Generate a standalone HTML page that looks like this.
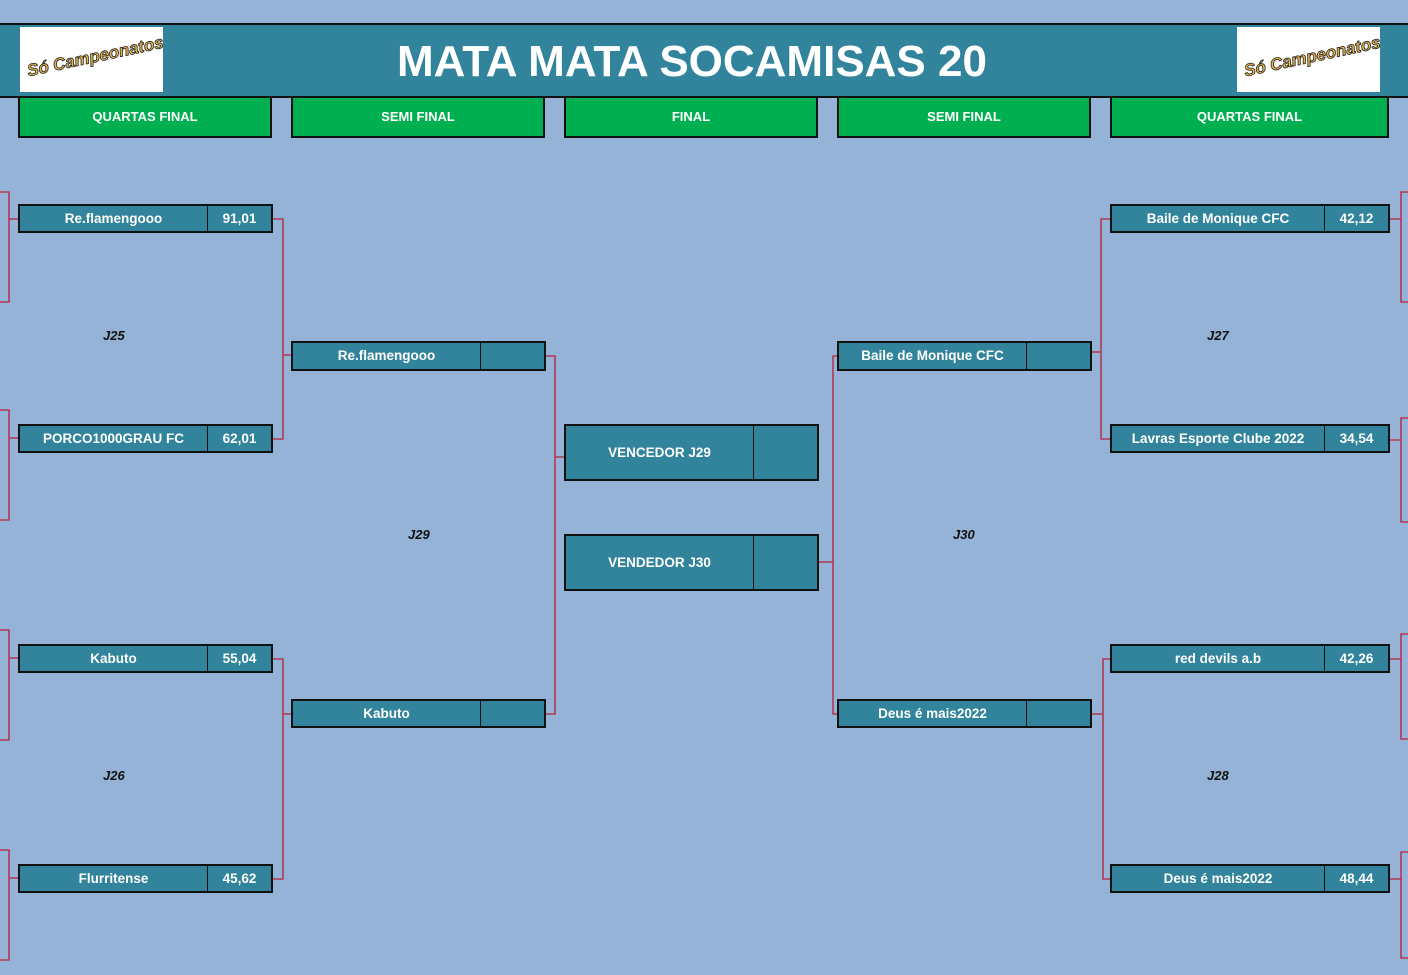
<!DOCTYPE html>
<html><head><meta charset="utf-8"><style>
body{margin:0;width:1408px;height:975px;background:#95b3d7;position:relative;overflow:hidden;font-family:"Liberation Sans",sans-serif}
.hdr{position:absolute;left:0;top:23px;width:1408px;height:71px;background:#31849b;border-top:2px solid #111;border-bottom:2px solid #111}
.title{position:absolute;left:-12px;width:1408px;top:37px;text-align:center;color:#fff;font-size:44px;font-weight:bold;letter-spacing:0px}
.logo{position:absolute;top:27px;width:143px;height:65px;background:#fff;overflow:hidden}
.logo span{position:absolute;left:6px;top:20px;font:italic bold 17px "Liberation Sans",sans-serif;color:#e8b64a;-webkit-text-stroke:0.8px #222;transform:rotate(-12deg);white-space:nowrap}
.g{position:absolute;top:96px;height:38px;background:#00b050;border:2px solid #111;color:#fff;font-weight:bold;font-size:13px;text-align:center;line-height:38px}
.t{position:absolute;background:#31849b;border:2px solid #111;color:#fff;font-weight:bold;font-size:13.5px;box-sizing:border-box;display:flex}
.t .n{flex:1;text-align:center;border-right:1px solid #111}
.t .s{text-align:center}
.lbl{position:absolute;font-weight:bold;font-style:italic;font-size:13px;color:#111}
svg{position:absolute;left:0;top:0}
</style></head><body>
<div class="hdr"></div>
<div class="logo" style="left:20px"><span>Só Campeonatos</span></div>
<div class="logo" style="left:1237px"><span>Só Campeonatos</span></div>
<div class="title">MATA MATA SOCAMISAS 20</div>
<div class="g" style="left:18px;width:250px">QUARTAS FINAL</div>
<div class="g" style="left:291px;width:250px">SEMI FINAL</div>
<div class="g" style="left:564px;width:250px">FINAL</div>
<div class="g" style="left:837px;width:250px">SEMI FINAL</div>
<div class="g" style="left:1110px;width:275px">QUARTAS FINAL</div>

<svg width="1408" height="975" fill="none" stroke="#b81f3a" stroke-width="1.3">
<path d="M272 219H283V439H272M283 355H291"/>
<path d="M272 659H283V879H272M283 714H291"/>
<path d="M545 356H555V714H545M555 457H564"/>
<path d="M837 356H833V714H837M833 562H818"/>
<path d="M1110 219H1101V439H1110M1101 352H1091"/>
<path d="M1110 659H1103V879H1110M1103 714H1091"/>
<path d="M0 192H9V302H0M9 219H18"/>
<path d="M0 410H9V520H0M9 438H18"/>
<path d="M0 630H9V740H0M9 658H18"/>
<path d="M0 850H9V960H0M9 878H18"/>
<path d="M1408 192H1401V302H1408M1401 219H1389"/>
<path d="M1408 418H1401V522H1408M1401 440H1389"/>
<path d="M1408 634H1401V739H1408M1401 659H1389"/>
<path d="M1408 852H1401V958H1408M1401 879H1389"/>
</svg>

<div class="t" style="left:18px;top:204px;width:255px;height:29px;line-height:25px"><div class="n">Re.flamengooo</div><div class="s" style="width:63px">91,01</div></div>
<div class="t" style="left:18px;top:424px;width:255px;height:29px;line-height:25px"><div class="n">PORCO1000GRAU FC</div><div class="s" style="width:63px">62,01</div></div>
<div class="t" style="left:18px;top:644px;width:255px;height:29px;line-height:25px"><div class="n">Kabuto</div><div class="s" style="width:63px">55,04</div></div>
<div class="t" style="left:18px;top:864px;width:255px;height:29px;line-height:25px"><div class="n">Flurritense</div><div class="s" style="width:63px">45,62</div></div>

<div class="t" style="left:291px;top:341px;width:255px;height:30px;line-height:26px"><div class="n">Re.flamengooo</div><div class="s" style="width:63px"></div></div>
<div class="t" style="left:291px;top:699px;width:255px;height:29px;line-height:25px"><div class="n">Kabuto</div><div class="s" style="width:63px"></div></div>

<div class="t" style="left:564px;top:424px;width:255px;height:57px;line-height:53px"><div class="n">VENCEDOR J29</div><div class="s" style="width:63px"></div></div>
<div class="t" style="left:564px;top:534px;width:255px;height:57px;line-height:53px"><div class="n">VENDEDOR J30</div><div class="s" style="width:63px"></div></div>

<div class="t" style="left:837px;top:341px;width:255px;height:30px;line-height:26px"><div class="n">Baile de Monique CFC</div><div class="s" style="width:63px"></div></div>
<div class="t" style="left:837px;top:699px;width:255px;height:29px;line-height:25px"><div class="n">Deus é mais2022</div><div class="s" style="width:63px"></div></div>

<div class="t" style="left:1110px;top:204px;width:280px;height:29px;line-height:25px"><div class="n">Baile de Monique CFC</div><div class="s" style="width:63px">42,12</div></div>
<div class="t" style="left:1110px;top:424px;width:280px;height:29px;line-height:25px"><div class="n">Lavras Esporte Clube 2022</div><div class="s" style="width:63px">34,54</div></div>
<div class="t" style="left:1110px;top:644px;width:280px;height:29px;line-height:25px"><div class="n">red devils a.b</div><div class="s" style="width:63px">42,26</div></div>
<div class="t" style="left:1110px;top:864px;width:280px;height:29px;line-height:25px"><div class="n">Deus é mais2022</div><div class="s" style="width:63px">48,44</div></div>

<div class="lbl" style="left:103px;top:328px">J25</div>
<div class="lbl" style="left:103px;top:768px">J26</div>
<div class="lbl" style="left:408px;top:527px">J29</div>
<div class="lbl" style="left:953px;top:527px">J30</div>
<div class="lbl" style="left:1207px;top:328px">J27</div>
<div class="lbl" style="left:1207px;top:768px">J28</div>
</body></html>
